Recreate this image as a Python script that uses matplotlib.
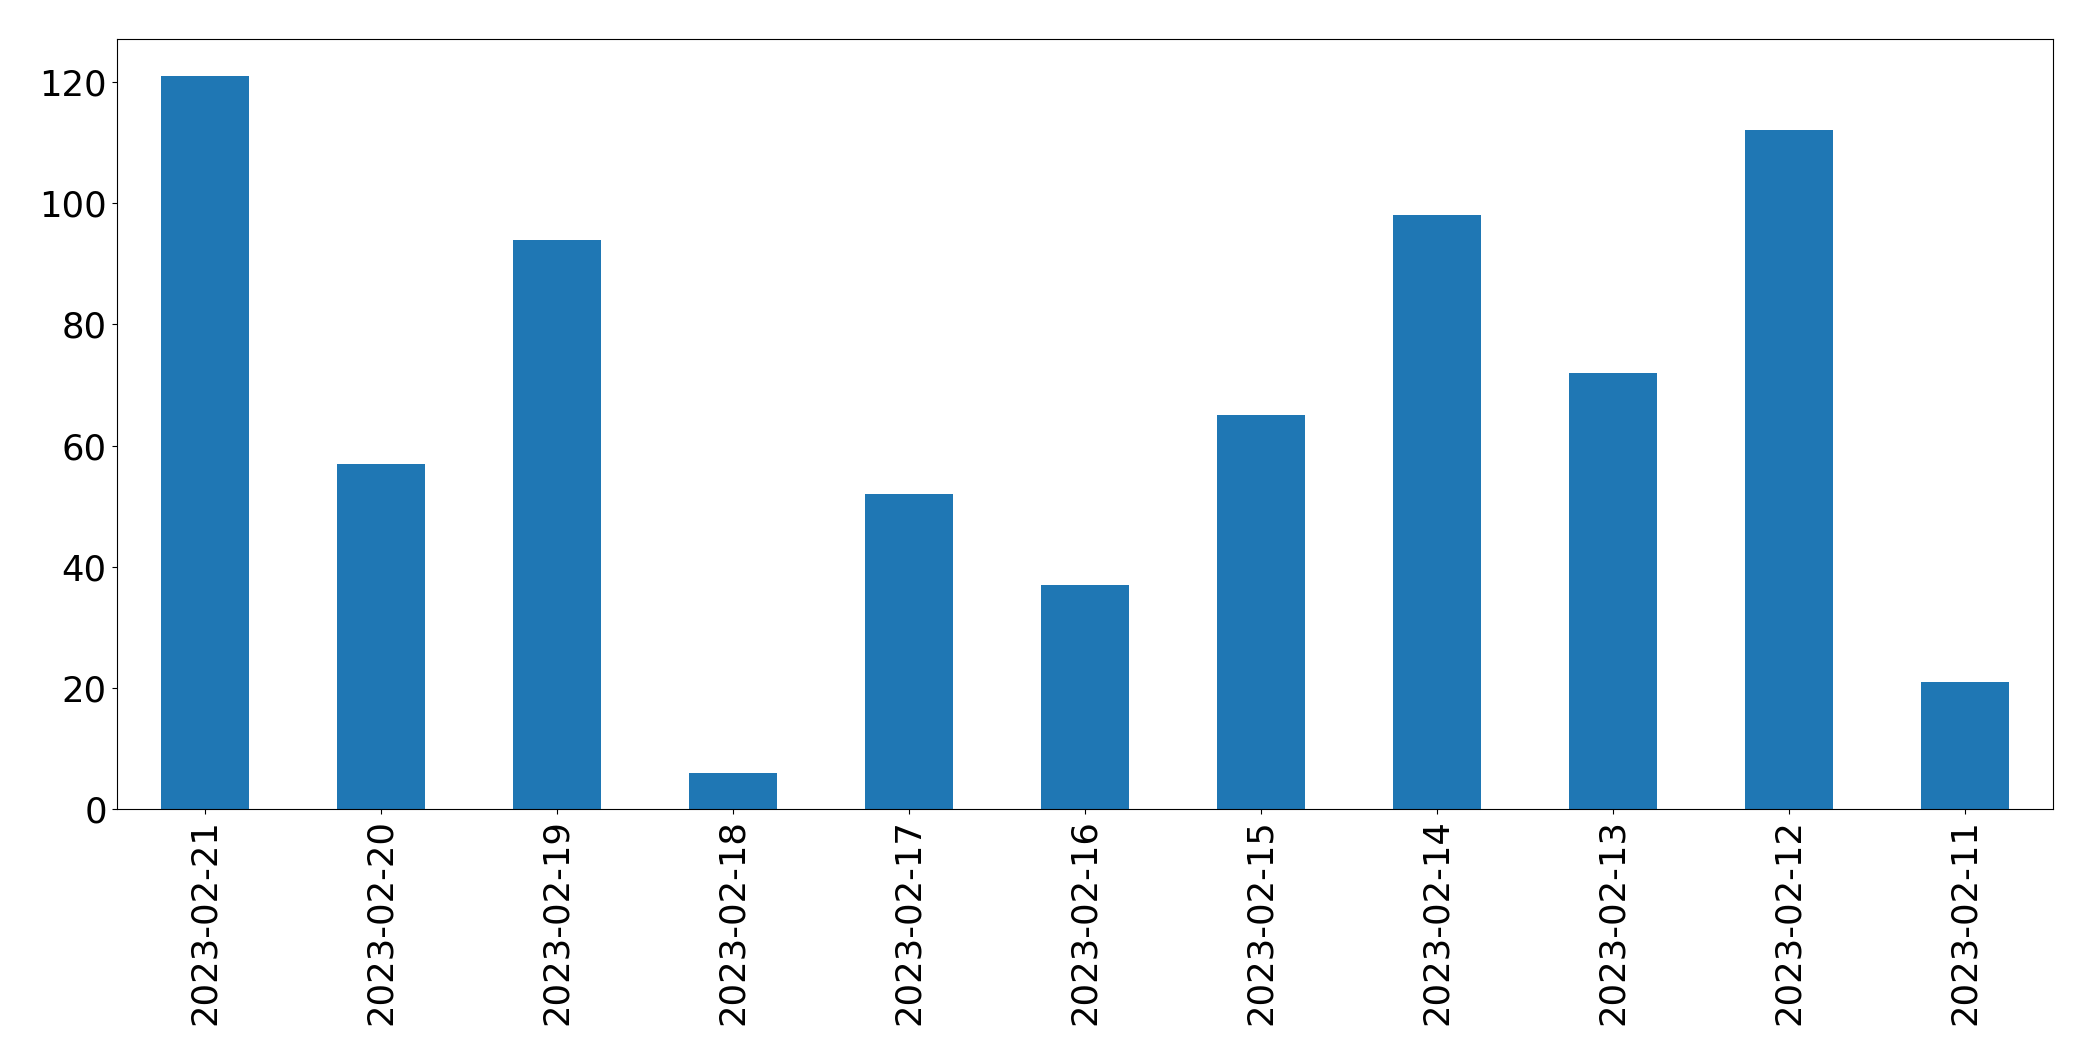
import matplotlib
matplotlib.use("Agg")
import matplotlib.pyplot as plt
import numpy as np

dates = ["2023-02-21", "2023-02-20", "2023-02-19", "2023-02-18", "2023-02-17",
         "2023-02-16", "2023-02-15", "2023-02-14", "2023-02-13", "2023-02-12",
         "2023-02-11"]
counts = [121, 57, 94, 6, 52, 37, 65, 98, 72, 112, 21]

fig = plt.figure(figsize=(20.93, 10.61), dpi=100)
ax = fig.add_axes([0.0557, 0.2372, 0.9253, 0.7258])

x = np.arange(len(dates))
ax.bar(x, counts, width=0.5, color="#1f77b4")
ax.set_xlim(-0.5, len(dates) - 0.5)
ax.set_ylim(0, max(counts) * 1.05)
ax.set_xticks(x)
ax.set_xticklabels(dates, rotation=90)
ax.tick_params(labelsize=25.5)

fig.savefig("out.png", dpi=100)
